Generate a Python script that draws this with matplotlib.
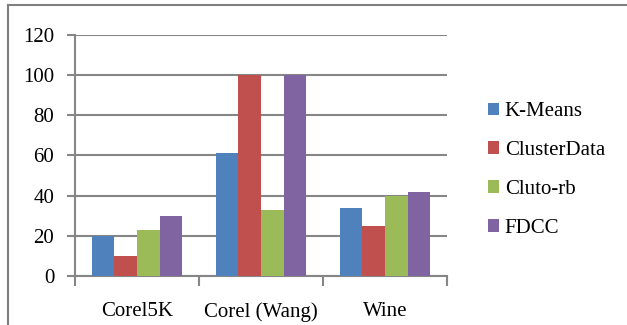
import numpy as np
import matplotlib.pyplot as plt
from matplotlib.lines import Line2D

categories = ['Corel5K', 'Corel (Wang)', 'Wine']
kmeans = [20, 61, 34]
clusterdata = [10, 100, 25]
cluto_rb = [23, 33, 40]
fdcc = [30, 100, 42]
series_names = ['K-Means', 'ClusterData', 'Cluto-rb', 'FDCC']
colors = ['#4F81BD', '#C0504D', '#9BBB59', '#8064A2']
yticks = [0, 20, 40, 60, 80, 100, 120]

plt.rcParams['font.family'] = ['Liberation Serif', 'DejaVu Serif']
fs = 15
grey = '#868686'

fig = plt.figure(figsize=(6.27, 3.25), dpi=100)
ax = fig.add_axes([75/627, 49/325, 372/627, 241.3/325])

x = np.arange(len(categories))
w = 0.1815
for i, (vals, name) in enumerate(zip([kmeans, clusterdata, cluto_rb, fdcc], series_names)):
    ax.bar(x + (i - 1.5)*w, vals, w, color=colors[i], label=name, zorder=3)

ax.set_xlim(-0.5, 2.5)
ax.set_ylim(0, 120)
ax.set_yticks(yticks)
ax.set_yticklabels([str(v) for v in yticks], fontsize=fs)
ax.set_xticks([-0.5, 0.5, 1.5, 2.5])
ax.set_xticklabels([])
ax.set_xticks(x, minor=True)
ax.set_xticklabels(categories, minor=True, fontsize=fs)
ax.tick_params(axis='x', which='minor', length=0, pad=19)
ax.tick_params(axis='x', which='major', length=7, width=1.5, color=grey)
ax.tick_params(axis='y', length=6, width=1.5, color=grey, pad=9)
ax.grid(axis='y', color=grey, lw=1.5, zorder=0)
for s in ['top', 'right']:
    ax.spines[s].set_visible(False)
for s in ['left', 'bottom']:
    ax.spines[s].set_color(grey)
    ax.spines[s].set_linewidth(1.5)

ax.legend(loc='center left', bbox_to_anchor=(488/627, 1 - 170/325), bbox_transform=fig.transFigure,
          frameon=False, fontsize=fs, handlelength=0.55, handleheight=0.55, handletextpad=0.25,
          labelspacing=0.95, borderpad=0, borderaxespad=0)

# outer chart frame
fig.add_artist(Line2D([7.5/627, 7.5/627], [0, 1 - 5/325], color='#7f7f7f', lw=1.5))
fig.add_artist(Line2D([7.5/627, 626/627], [1 - 5/325, 1 - 5/325], color='#7f7f7f', lw=1.5))

fig.savefig('out.png', dpi=100)
